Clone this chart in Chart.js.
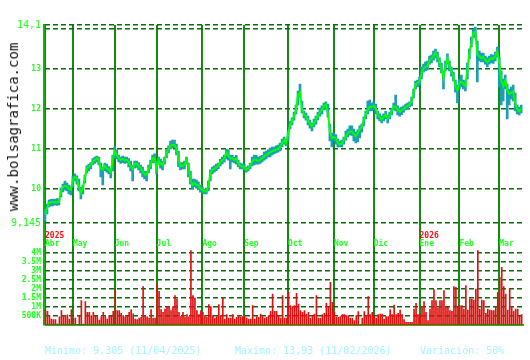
<!DOCTYPE html>
<html>
<head>
<meta charset="utf-8">
<script src="https://cdn.jsdelivr.net/npm/chart.js@4"></script>
<style>
body{margin:0;background:#fff;}
#wrap{position:relative;width:530px;height:360px;overflow:hidden;background:#fff;}
#c{position:absolute;left:0;top:0;}
#wm{position:absolute;left:12.5px;top:126.5px;transform:translate(-50%,-50%) rotate(-90deg);
    font:14px "DejaVu Sans Mono";white-space:nowrap;color:#111;}
.foot{position:absolute;top:345px;font:10px/12px "DejaVu Sans Mono";color:#a6f2ff;white-space:nowrap;}
</style>
</head>
<body>
<div id="wrap">
  <canvas id="c" width="530" height="360"></canvas>
  <div id="wm">www.bolsagrafica.com</div>
  <div class="foot" style="left:45px">Minimo: 9,305 (11/04/2025)</div>
  <div class="foot" style="left:235px">Maximo: 13,93 (11/02/2026)</div>
  <div class="foot" style="left:420px">Variación: 50%</div>
</div>
<script>
// daily closes, Apr 2025 -> Mar 2026
const closes = [
9.36,9.52,9.65,9.67,9.67,9.67,9.67,9.68,9.94,10.05,
10.08,10.07,10.00,9.98,10.23,10.30,10.27,10.07,9.90,10.02,
10.27,10.52,10.55,10.60,10.69,10.72,10.77,10.73,10.52,10.48,
10.58,10.52,10.48,10.42,10.73,10.94,10.86,10.77,10.73,10.75,
10.72,10.73,10.69,10.57,10.50,10.63,10.63,10.58,10.52,10.45,
10.36,10.36,10.50,10.60,10.77,10.77,10.52,10.72,10.63,10.60,
10.72,10.90,11.00,11.08,11.10,11.10,11.02,10.77,10.57,10.58,
10.60,10.73,10.57,10.25,10.10,10.15,10.10,10.10,10.00,9.98,
9.94,9.94,10.07,10.40,10.48,10.50,10.55,10.58,10.67,10.72,
10.77,10.92,10.83,10.77,10.77,10.73,10.76,10.64,10.58,10.57,
10.55,10.48,10.52,10.58,10.69,10.73,10.73,10.70,10.73,10.77,
10.82,10.85,10.88,10.92,10.94,10.97,10.98,11.00,11.05,11.15,
11.23,11.15,11.36,11.61,11.69,11.82,11.98,12.36,12.42,11.98,
11.86,11.82,11.72,11.63,11.57,11.65,11.73,11.83,11.92,11.98,
12.07,12.11,11.90,11.44,11.28,11.30,11.27,11.15,11.12,11.13,
11.22,11.32,11.40,11.44,11.44,11.38,11.32,11.40,11.50,11.55,
11.72,11.86,11.98,12.05,12.05,12.08,12.02,11.86,11.80,11.73,
11.80,11.86,11.77,11.83,11.94,12.07,12.05,11.98,11.93,11.97,
12.00,12.05,12.08,12.11,12.19,12.40,12.61,12.65,12.69,12.90,
13.02,13.05,13.08,13.22,13.25,13.33,13.40,13.30,13.17,13.02,
12.77,13.07,13.27,13.07,12.94,12.82,12.57,12.47,12.65,12.69,
12.63,12.58,12.98,13.40,13.65,13.90,13.93,13.36,13.32,13.27,
13.30,13.23,13.17,13.23,13.27,13.25,13.32,13.44,13.15,12.73,
12.57,12.72,12.48,12.38,12.40,12.44,12.15,12.00,11.94,12.00
];
const highs = [
9.50,9.62,9.72,9.74,9.75,9.74,9.76,9.75,10.02,10.12,
10.20,10.15,10.10,10.05,10.32,10.38,10.33,10.25,10.05,10.10,
10.35,10.58,10.62,10.66,10.76,10.80,10.82,10.80,10.65,10.55,
10.65,10.62,10.56,10.50,10.85,11.05,10.98,10.85,10.80,10.82,
10.80,10.80,10.76,10.70,10.60,10.70,10.70,10.66,10.60,10.55,
10.45,10.44,10.60,10.72,10.85,10.88,10.70,10.80,10.75,10.70,
10.80,10.98,11.08,11.20,11.22,11.22,11.12,10.95,10.66,10.66,
10.70,10.80,10.65,10.45,10.25,10.25,10.22,10.18,10.10,10.05,
10.00,10.02,10.20,10.48,10.55,10.58,10.62,10.65,10.74,10.80,
10.85,11.00,10.98,10.85,10.84,10.80,10.84,10.72,10.65,10.63,
10.62,10.55,10.58,10.64,10.80,10.85,10.84,10.80,10.82,10.84,
10.92,10.95,10.98,11.02,11.05,11.05,11.08,11.10,11.15,11.25,
11.30,11.25,11.45,11.70,11.78,11.92,12.10,12.45,12.62,12.20,
11.95,11.90,11.82,11.72,11.65,11.75,11.82,11.92,12.02,12.08,
12.15,12.18,12.12,11.62,11.40,11.40,11.36,11.25,11.20,11.22,
11.30,11.45,11.50,11.58,11.58,11.50,11.42,11.48,11.58,11.62,
11.80,11.95,12.20,12.22,12.15,12.18,12.12,11.95,11.88,11.82,
11.88,11.94,11.85,11.92,12.02,12.15,12.35,12.08,12.02,12.05,
12.08,12.12,12.15,12.18,12.30,12.50,12.70,12.72,12.80,13.05,
13.12,13.18,13.20,13.32,13.35,13.45,13.50,13.42,13.28,13.15,
12.95,13.20,13.38,13.20,13.05,12.92,12.72,12.60,12.75,12.85,
12.72,12.70,13.15,13.50,13.80,14.00,14.05,13.70,13.45,13.40,
13.40,13.32,13.28,13.32,13.36,13.35,13.42,13.55,13.30,12.95,
12.75,12.85,12.62,12.50,12.55,12.60,12.40,12.10,12.05,12.10
];
const lows = [
9.20,9.38,9.55,9.58,9.58,9.60,9.59,9.60,9.80,9.93,
9.98,9.95,9.88,9.85,10.05,10.20,10.12,9.95,9.75,9.88,
10.15,10.40,10.45,10.50,10.60,10.64,10.68,10.60,10.30,10.10,
10.46,10.42,10.38,10.28,10.45,10.78,10.75,10.68,10.64,10.66,
10.64,10.65,10.55,10.45,10.20,10.52,10.54,10.48,10.40,10.30,
10.25,10.20,10.40,10.50,10.65,10.66,10.38,10.62,10.52,10.48,
10.62,10.78,10.90,11.00,11.02,11.03,10.85,10.55,10.48,10.50,
10.50,10.62,10.30,10.12,10.00,10.05,10.02,9.98,9.92,9.90,
9.88,9.88,9.95,10.20,10.38,10.42,10.46,10.50,10.58,10.63,
10.68,10.75,10.72,10.50,10.68,10.65,10.62,10.55,10.50,10.50,
10.48,10.42,10.45,10.50,10.58,10.60,10.62,10.62,10.64,10.68,
10.72,10.75,10.80,10.80,10.85,10.88,10.90,10.92,10.95,11.05,
11.12,11.08,11.20,11.50,11.60,11.72,11.88,12.10,12.30,11.90,
11.78,11.72,11.60,11.52,11.45,11.55,11.62,11.73,11.82,11.88,
11.98,12.00,11.80,11.20,11.05,11.20,11.12,11.05,11.05,11.05,
11.12,11.22,11.30,11.35,11.34,11.20,11.15,11.18,11.28,11.42,
11.58,11.75,11.88,11.95,11.96,11.98,11.88,11.75,11.70,11.65,
11.70,11.76,11.65,11.75,11.85,11.98,11.95,11.85,11.82,11.86,
11.92,11.98,12.00,12.05,12.08,12.28,12.50,12.55,12.60,12.75,
12.92,12.95,12.98,13.12,13.15,13.22,13.28,13.18,13.05,12.90,
12.50,12.95,13.12,12.95,12.82,12.70,12.42,12.15,12.50,12.55,
12.50,12.45,12.75,13.25,13.55,13.80,13.78,12.68,13.20,13.18,
13.18,13.12,13.05,13.12,13.15,13.14,13.20,13.30,12.55,12.10,
12.20,12.50,11.75,12.10,12.25,12.20,11.95,11.88,11.85,11.90
];
// volume in thousands
const volumes = [
850,760,520,330,300,300,60,460,800,520,
520,570,330,850,390,380,40,520,1350,50,
1300,700,700,520,700,520,480,280,460,700,
460,330,520,520,760,1960,800,800,650,520,
460,520,700,850,620,330,300,390,430,2130,
520,460,390,850,390,390,2280,1870,850,700,
890,1020,1020,796,1019,1630,1444,704,463,704,
426,574,460,4130,1630,1500,796,574,796,704,
519,426,1130,1019,519,389,463,1130,519,1500,
333,574,389,389,574,333,426,519,426,463,
463,389,333,333,1074,333,463,426,611,463,
389,426,519,759,1722,759,759,519,389,1630,
389,389,1815,1074,1019,1074,1759,1167,796,704,
796,611,704,389,519,611,1630,389,389,574,
648,1204,981,2370,1259,704,426,426,463,574,
574,519,519,389,389,241,519,741,30,389,
741,519,1574,574,704,463,389,574,611,611,
333,463,463,852,574,1111,574,648,833,574,
296,148,148,148,148,889,1204,574,574,1019,
1296,704,241,889,1352,1963,1352,944,1352,1352,
1907,1019,1019,796,759,2130,2093,1019,1074,1074,
889,2185,833,1444,1444,1389,2000,4130,889,1389,
1352,648,889,833,796,796,1019,1815,2648,3204,
2130,1722,833,2000,1019,759,889,889,519,574
];
const monthLabels = ['Abr','May','Jun','Jul','Ago','Sep','Oct','Nov','Dic','Ene','Feb','Mar'];
const monthStart = [0,14,35,56,79,100,122,145,165,188,208,228];
const yearLabels = ['2025','2026'];
const yearStart = [0,188];
const priceTicks = [14.1,14,13,12,11,10,9.145];
const priceTickLabels = ['14,1','','13','12','11','10','9,145'];
const volTicks = [4000,3500,3000,2500,2000,1500,1000,500,0];
const volTickLabels = ['4M','3.5M','3M','2.5M','2M','1.5M','1M','500K',''];

// both panes share one chart area: price on top, volume at the bottom
const pMin = 6.6, pMax = 14.1;
const volMax = 16667;
const volAsPrice = v => pMin + v / volMax * (pMax - pMin);
const yTickVals = priceTicks.concat(volTicks.map(volAsPrice));
const yTickLabels = priceTickLabels.concat(volTickLabels);
const nP = priceTicks.length;
const zeroIdx = yTickVals.length - 1;

const idx = closes.map((c, i) => i);
const mono = 'DejaVu Sans Mono';

new Chart(document.getElementById('c'), {
    data: {
        datasets: [{
            type: 'line',
            data: idx.map(i => ({x: i, y: closes[i]})),
            borderColor: '#00ff00',
            borderWidth: 2,
            pointRadius: 0,
            tension: 0,
            yAxisID: 'y',
            order: 0
        }, {
            type: 'bar',
            data: idx.map(i => ({x: i, y: [lows[i], highs[i]]})),
            backgroundColor: '#1c9fb4',
            barThickness: 2,
            grouped: false,
            yAxisID: 'y',
            order: 1
        }, {
            type: 'bar',
            data: idx.map(i => ({x: i, y: volumes[i]})),
            backgroundColor: '#e01010',
            barThickness: 1,
            grouped: false,
            xAxisID: 'xVol',
            yAxisID: 'vol',
            order: 2
        }]
    },
    options: {
        responsive: false,
        animation: false,
        devicePixelRatio: 1,
        layout: {padding: {top: 25, bottom: 35, left: 0, right: 4}},
        plugins: {legend: {display: false}, tooltip: {enabled: false}},
        scales: {
            x: {
                type: 'linear',
                offset: false,
                min: -0.5, max: closes.length + 0.5,
                position: {y: 9.145},
                afterBuildTicks: s => { s.ticks = monthStart.map(v => ({value: v})); },
                ticks: {
                    callback: (v, i) => monthLabels[i],
                    autoSkip: false, maxRotation: 0, align: 'start', padding: 16,
                    color: '#22ff22', font: {family: mono, size: 8, weight: 'bold'}
                },
                grid: {offset: false, color: '#138a13', lineWidth: 2, drawTicks: false},
                border: {display: false}
            },
            xYear: {
                type: 'linear',
                axis: 'x',
                offset: false,
                min: -0.5, max: closes.length + 0.5,
                position: {y: 9.145},
                afterBuildTicks: s => { s.ticks = yearStart.map(v => ({value: v})); },
                ticks: {
                    callback: (v, i) => yearLabels[i],
                    autoSkip: false, maxRotation: 0, align: 'start', padding: 8,
                    color: '#ff1010', font: {family: mono, size: 8, weight: 'bold'}
                },
                grid: {offset: false, display: false, drawTicks: false},
                border: {display: false}
            },
            // same days, shifted half a pixel so 1px volume bars stay crisp
            xVol: {
                type: 'linear',
                axis: 'x',
                display: false,
                offset: false,
                min: -0.75, max: closes.length + 0.25
            },
            y: {
                type: 'linear',
                position: 'left',
                min: pMin, max: pMax,
                afterBuildTicks: s => { s.ticks = yTickVals.map(v => ({value: v})); },
                afterFit: s => { s.width = 44; },
                ticks: {
                    callback: (v, i) => yTickLabels[i],
                    autoSkip: false, padding: 3,
                    color: '#22ff22',
                    font: c => (c.index === 0 || c.index === nP - 1)
                        ? {family: mono, size: 10}
                        : {family: mono, size: 8, weight: 'bold'}
                },
                grid: {
                    drawTicks: false,
                    color: c => c.index === zeroIdx ? '#10c010' : '#0b6a0b',
                    lineWidth: c => c.index === zeroIdx ? 2 : 1.5
                },
                border: {
                    color: '#10b010', width: 2,
                    dash: c => c.index === zeroIdx || c.index === undefined ? [] : [5, 3]
                }
            },
            vol: {
                type: 'linear',
                display: false,
                min: 0, max: volMax
            }
        }
    }
});
</script>
</body>
</html>
